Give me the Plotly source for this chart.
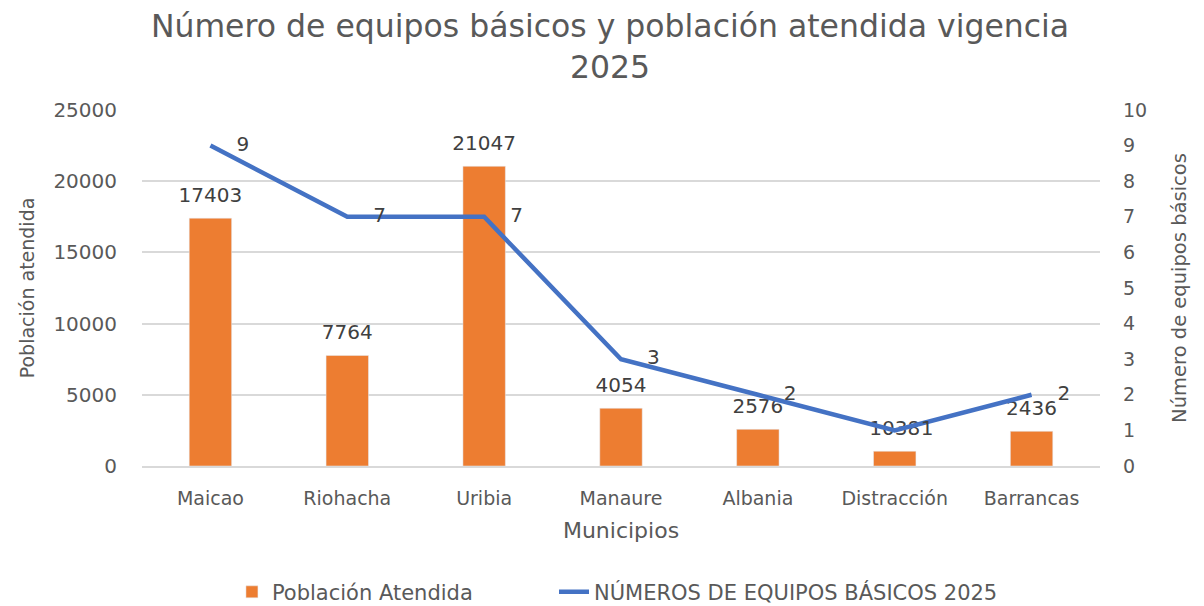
import plotly.graph_objects as go

municipios = ["Maicao", "Riohacha", "Uribia", "Manaure", "Albania", "Distracción", "Barrancas"]
poblacion = [17403, 7764, 21047, 4054, 2576, 1038, 2436]
equipos = [9, 7, 7, 3, 2, 1, 2]

FONT = "DejaVu Sans"
GRAY = "#595959"
LABEL = "#404040"

fig = go.Figure()
fig.add_trace(go.Bar(
    x=municipios, y=poblacion, name="Población Atendida",
    marker_color="#ED7D31", legend="legend",
))
# bar value labels
fig.add_trace(go.Scatter(
    x=municipios, y=poblacion, mode="markers+text", showlegend=False,
    marker=dict(size=16, color="rgba(0,0,0,0)"),
    text=[str(v) for v in poblacion], textposition="top center",
    textfont=dict(size=20, color=LABEL, family=FONT), cliponaxis=False,
    hoverinfo="skip",
))
fig.add_trace(go.Scatter(
    x=municipios, y=equipos, name="NÚMEROS DE EQUIPOS BÁSICOS 2025",
    mode="lines+markers+text", line=dict(color="#4472C4", width=4.5),
    marker=dict(size=40, color="rgba(0,0,0,0)"),
    text=[str(v) for v in equipos], textposition="middle right",
    textfont=dict(size=20, color=LABEL, family=FONT),
    yaxis="y2", cliponaxis=False, legend="legend2",
))

fig.update_layout(
    width=1204, height=606,
    paper_bgcolor="white", plot_bgcolor="white",
    font=dict(family=FONT, color=GRAY, size=17),
    margin=dict(l=134, r=112, t=102, b=148),
    title=dict(text="Número de equipos básicos y población atendida vigencia<br>2025",
               x=0.5, xanchor="center", y=0.952, yanchor="top",
               font=dict(size=31.5, color=GRAY, family=FONT)),
    bargap=0.69,
    xaxis=dict(title=dict(text="Municipios", font=dict(size=22, color=GRAY), standoff=15),
               range=[-0.5, 6.5],
               tickfont=dict(size=19, color=GRAY), showgrid=False, automargin=False,
               showline=True, linecolor="#D9D9D9", linewidth=1.5, ticks="",
               ticklabelstandoff=14),
    yaxis=dict(title=dict(text="Población atendida", font=dict(size=19, color=GRAY), standoff=13),
               range=[0, 25000], dtick=5000, tickformat="d", tickfont=dict(size=20, color=GRAY),
               showgrid=True, gridcolor="#D9D9D9", gridwidth=1.5, zeroline=False,
               ticks="", ticklabelstandoff=24, automargin=False),
    yaxis2=dict(title=dict(text="Número de equipos básicos", font=dict(size=19.5, color=GRAY), standoff=26),
                overlaying="y", side="right", range=[0, 10], dtick=1,
                tickfont=dict(size=19, color=GRAY), showgrid=False, zeroline=False,
                ticks="", ticklabelstandoff=22, automargin=False),
    legend=dict(orientation="h", xref="container", yref="container",
                x=0.186, xanchor="left", y=0.036, yanchor="middle",
                font=dict(size=21, color=GRAY), bgcolor="rgba(0,0,0,0)"),
    legend2=dict(orientation="h", xref="container", yref="container",
                 x=0.4535, xanchor="left", y=0.036, yanchor="middle",
                 font=dict(size=21, color=GRAY), bgcolor="rgba(0,0,0,0)"),
    showlegend=True,
)

fig.write_html("out.html")
